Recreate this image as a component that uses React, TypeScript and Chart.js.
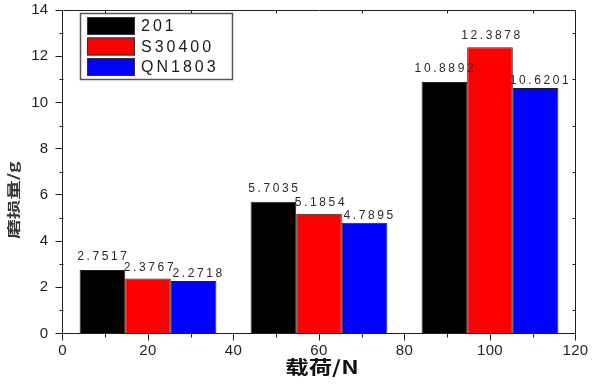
import React, { useEffect, useRef } from 'react';
import { Chart, registerables } from 'chart.js';

Chart.register(...registerables);

// ---- data ----
const loads = [20, 60, 100];
const series201 = [2.7517, 5.7035, 10.8892];
const seriesS30400 = [2.3767, 5.1854, 12.3878];
const seriesQN1803 = [2.2718, 4.7895, 10.6201];
const seriesNames = ['201', 'S30400', 'QN1803'];
const seriesColors = ['#000000', '#ff0000', '#0000ff'];
const xTitle = '载荷/N';
const yTitle = '磨损量/g';
const xMin = 0;
const xMax = 120;
const xStep = 20;
const yMin = 0;
const yMax = 14;
const yStep = 2;

const LATIN = '"Liberation Sans", Arial, sans-serif';
const CJK = '"Noto Sans CJK SC", "Noto Sans", sans-serif';
const AXIS = '#1e1e1e';
// per-series label nudges (dx, dy) in pixels, like the original's label placement
const labelNudge = [
  [0, -10],
  [1, -8],
  [4, -4],
];

const decor = {
  id: 'decor',
  beforeDraw(chart: any) {
    chart.ctx.letterSpacing = '0.3px';
  },
  afterDatasetsDraw(chart: any) {
    const ctx = chart.ctx as CanvasRenderingContext2D;
    const { left, right, top, bottom } = chart.chartArea;
    const xs = chart.scales.x;
    const ys = chart.scales.y;
    const L = Math.round(left) + 0.5;
    const R = Math.round(right) - 0.5;
    const T = Math.round(top) + 0.5;
    const B = Math.round(bottom) - 0.5;
    ctx.save();
    ctx.strokeStyle = AXIS;
    ctx.lineWidth = 1;
    ctx.beginPath();
    ctx.moveTo(L, T);
    ctx.lineTo(R, T);
    ctx.lineTo(R, B);
    for (let v = xMin + xStep / 2; v < xMax; v += xStep) {
      const px = Math.round(xs.getPixelForValue(v)) + 0.5;
      ctx.moveTo(px, B);
      ctx.lineTo(px, B + 4);
      ctx.moveTo(px, T);
      ctx.lineTo(px, T + 3);
    }
    for (let v = yMin + yStep / 2; v < yMax; v += yStep) {
      const py = Math.round(ys.getPixelForValue(v)) + 0.5;
      ctx.moveTo(L, py);
      ctx.lineTo(L - 4, py);
      ctx.moveTo(R, py);
      ctx.lineTo(R - 3, py);
    }
    ctx.stroke();

    // value labels
    ctx.font = `12px ${LATIN}`;
    (ctx as any).letterSpacing = '2.6px';
    ctx.fillStyle = '#2a2a2a';
    ctx.textAlign = 'center';
    ctx.textBaseline = 'alphabetic';
    chart.data.datasets.forEach((ds: any, di: number) => {
      const meta = chart.getDatasetMeta(di);
      const [dx, dy] = labelNudge[di];
      meta.data.forEach((bar: any, i: number) => {
        const val = ds.data[i].y as number;
        ctx.fillText(val.toFixed(4), bar.x + 1 + dx, bar.y + dy);
      });
    });
    ctx.restore();
  },
  afterDraw(chart: any) {
    const ctx = chart.ctx as CanvasRenderingContext2D;
    ctx.save();
    // legend box
    const bx = 80.5, by = 13.5, bw = 152, bh = 66;
    ctx.fillStyle = '#ffffff';
    ctx.fillRect(bx, by, bw, bh);
    ctx.strokeStyle = '#555';
    ctx.lineWidth = 1.5;
    ctx.strokeRect(bx, by, bw, bh);
    ctx.font = `16px ${LATIN}`;
    (ctx as any).letterSpacing = '3px';
    ctx.textAlign = 'left';
    ctx.textBaseline = 'middle';
    chart.data.datasets.forEach((ds: any, i: number) => {
      const sy = 17 + i * 20.5;
      ctx.fillStyle = ds.backgroundColor;
      ctx.fillRect(87, sy, 48, 18);
      ctx.strokeStyle = '#333';
      ctx.lineWidth = 1;
      ctx.strokeRect(87.5, sy + 0.5, 47, 17);
      ctx.fillStyle = '#1a1a1a';
      ctx.fillText(ds.label, 141, sy + 10);
    });

    // axis titles
    (ctx as any).letterSpacing = '0px';
    ctx.fillStyle = '#111';
    ctx.textAlign = 'center';
    ctx.textBaseline = 'middle';
    ctx.save();
    ctx.translate(322, 367);
    ctx.scale(1.3, 1);
    ctx.font = `bold 18px ${CJK}`;
    ctx.fillText(xTitle, 0, 0);
    ctx.restore();

    ctx.save();
    ctx.translate(13, 200);
    ctx.rotate(-Math.PI / 2);
    ctx.scale(1.5, 1);
    ctx.font = `bold 13px ${CJK}`;
    ctx.fillStyle = '#333';
    ctx.fillText(yTitle, 0, 0);
    ctx.restore();

    ctx.restore();
  },
};

export default function App() {
  const ref = useRef<HTMLCanvasElement>(null);
  useEffect(() => {
    const seriesValues = [series201, seriesS30400, seriesQN1803];
    const chart = new Chart(ref.current as HTMLCanvasElement, {
      type: 'bar',
      data: {
        datasets: seriesValues.map((vals, i) => ({
          label: seriesNames[i],
          data: loads.map((x, j) => ({ x, y: vals[j] })),
          backgroundColor: seriesColors[i],
          borderColor: '#222',
          borderWidth: 1,
          categoryPercentage: 1.6,
          barPercentage: 1,
        })),
      },
      options: {
        animation: false,
        responsive: true,
        maintainAspectRatio: false,
        layout: { padding: { left: 0, right: 18.5, top: 9.5, bottom: 0 } },
        plugins: { legend: { display: false }, tooltip: { enabled: false } },
        scales: {
          x: {
            type: 'linear',
            min: xMin,
            max: xMax,
            offset: false,
            ticks: {
              stepSize: xStep,
              font: { family: LATIN, size: 15 },
              color: '#1e1e1e',
              padding: 1,
              maxRotation: 0,
              autoSkip: false,
            },
            grid: {
              display: true,
              drawOnChartArea: false,
              drawTicks: true,
              tickLength: 7,
              color: AXIS,
              offset: false,
            },
            border: { display: true, color: AXIS, width: 1 },
            afterFit: (s: any) => {
              s.height = 53.5;
            },
          },
          y: {
            type: 'linear',
            min: yMin,
            max: yMax,
            ticks: {
              stepSize: yStep,
              font: { family: LATIN, size: 15, lineHeight: 0.4 },
              color: '#1e1e1e',
              padding: 7,
            },
            grid: {
              display: true,
              drawOnChartArea: false,
              drawTicks: true,
              tickLength: 7,
              color: AXIS,
            },
            border: { display: true, color: AXIS, width: 1 },
            afterFit: (s: any) => {
              s.width = 62.5;
            },
          },
        },
      } as any,
      plugins: [decor],
    });
    return () => chart.destroy();
  }, []);
  return (
    <div style={{ position: 'absolute', left: 0, top: 0, width: 594, height: 387, background: '#fff' }}>
      <canvas ref={ref} />
    </div>
  );
}
